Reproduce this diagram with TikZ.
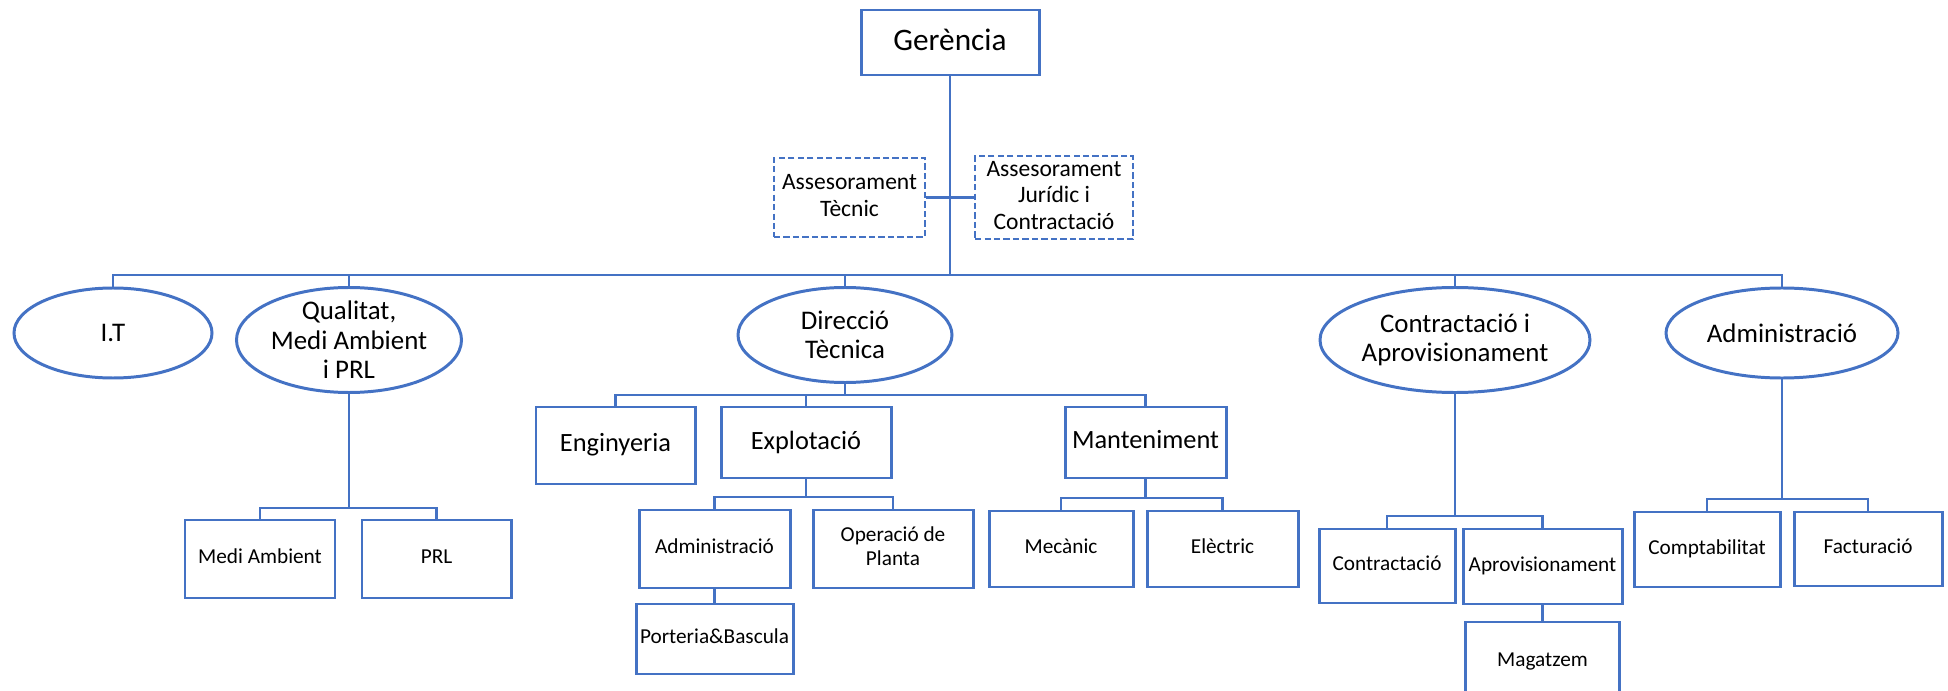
\documentclass[tikz,border=0pt]{standalone}
\usepackage{fontspec}
\setmainfont{Carlito}
\usepackage{tikz}
\usetikzlibrary{shapes.geometric}
\definecolor{orgblue}{HTML}{4472C4}

\begin{document}
\begin{tikzpicture}[x=0.2mm, y=-0.2mm,
  every node/.style={align=center, text=black},
  unit/.style={rectangle, draw=orgblue, line width=1.7pt, inner sep=1pt, text depth=0.3em,
    font=\fontsize{12.1}{13.4}\selectfont},
  dept/.style={unit, font=\fontsize{15}{17}\selectfont},
  advisor/.style={unit, line width=1.5pt, dash pattern=on 3.6pt off 1.8pt, text depth=0.25em,
    font=\fontsize{13.4}{15.2}\selectfont},
  area/.style={ellipse, draw=orgblue, line width=1.7pt, inner xsep=0pt, inner ysep=-4pt,
    font=\fontsize{15.3}{16.8}\selectfont},
  link/.style={draw=orgblue, line width=1.6pt}]
\useasboundingbox (0,0) rectangle (1948,691);
\clip (0,0) rectangle (1948,691);

\node[unit, font=\fontsize{17.8}{21}\selectfont, minimum width=35.6mm, minimum height=13mm] (ger) at (950,42.5) {Gerència};

\node[advisor, minimum width=30.2mm, minimum height=15.8mm] (astec) at (849.5,197.5) {Assesorament\\Tècnic};
\node[advisor, minimum width=31.6mm, minimum height=16.6mm] (asjur) at (1054,197.5) {Assesorament\\Jurídic i\\Contractació};

\node[area, minimum width=39.6mm, minimum height=18mm] (it) at (113,333) {I.T};
\node[area, minimum width=45mm, minimum height=21mm] (qual) at (349,340) {Qualitat,\\Medi Ambient\\i PRL};
\node[area, minimum width=42.8mm, minimum height=19mm] (dir) at (845,335) {Direcció\\Tècnica};
\node[area, minimum width=54mm, minimum height=21mm] (contr) at (1455,340) {Contractació i\\Aprovisionament};
\node[area, minimum width=46.4mm, minimum height=18mm] (admin) at (1782,333) {Administració};

\node[dept, minimum width=31.8mm, minimum height=15.4mm] (eng) at (615.5,445.5) {Enginyeria};
\node[dept, minimum width=34mm, minimum height=14.2mm] (expl) at (806,442.5) {Explotació};
\node[dept, minimum width=32.2mm, minimum height=14.2mm] (mant) at (1145.5,442.5) {Manteniment};

\node[unit, minimum width=30mm, minimum height=15.6mm] (medi) at (260,559) {Medi Ambient};
\node[unit, minimum width=29.8mm, minimum height=15.6mm] (prl) at (436.5,559) {PRL};
\node[unit, minimum width=30.2mm, minimum height=15.6mm] (eadm) at (714.5,549) {Administració};
\node[unit, minimum width=32mm, minimum height=15.6mm] (oper) at (893,549) {Operació de\\Planta};
\node[unit, minimum width=31.4mm, minimum height=14mm] (port) at (714.5,639) {Porteria\&Bascula};
\node[unit, minimum width=28.8mm, minimum height=15.2mm] (mec) at (1061,549) {Mecànic};
\node[unit, minimum width=30.2mm, minimum height=15.2mm] (elec) at (1222.5,549) {Elèctric};
\node[unit, minimum width=27.2mm, minimum height=14.8mm] (csub) at (1387,566) {Contractació};
\node[unit, minimum width=31.8mm, minimum height=15mm] (aprov) at (1542.5,566.5) {Aprovisionament};
\node[unit, minimum width=30.8mm, minimum height=16mm] (mag) at (1542.5,662) {Magatzem};
\node[unit, minimum width=29.2mm, minimum height=15mm] (comp) at (1707,549.5) {Comptabilitat};
\node[unit, minimum width=29.6mm, minimum height=14.8mm] (fact) at (1868,549) {Facturació};

\coordinate (mainbus) at (0,275);
\draw[link] (ger.south) -- (ger.south |- mainbus);
\draw[link] (it.north) -- (it.north |- mainbus) -- (admin.north |- mainbus) -- (admin.north);
\foreach \n in {qual,dir,contr}
  \draw[link] (\n.north) -- (\n.north |- mainbus);
\draw[link] (astec.east) -- (asjur.west);

\coordinate (dirbus) at (0,395);
\draw[link] (dir.south) -- (dir.south |- dirbus);
\draw[link] (eng.north) -- (eng.north |- dirbus) -- (mant.north |- dirbus) -- (mant.north);
\draw[link] (expl.north) -- (expl.north |- dirbus);

\foreach \p/\a/\b/\y in {qual/medi/prl/508, expl/eadm/oper/497, mant/mec/elec/498,
    contr/csub/aprov/516, admin/comp/fact/499}{
  \coordinate (bus) at (0,\y);
  \draw[link] (\p.south) -- (\p.south |- bus);
  \draw[link] (\a.north) -- (\a.north |- bus) -- (\b.north |- bus) -- (\b.north);
}

\draw[link] (eadm.south) -- (port.north);
\draw[link] (aprov.south) -- (mag.north);

\end{tikzpicture}
\end{document}
